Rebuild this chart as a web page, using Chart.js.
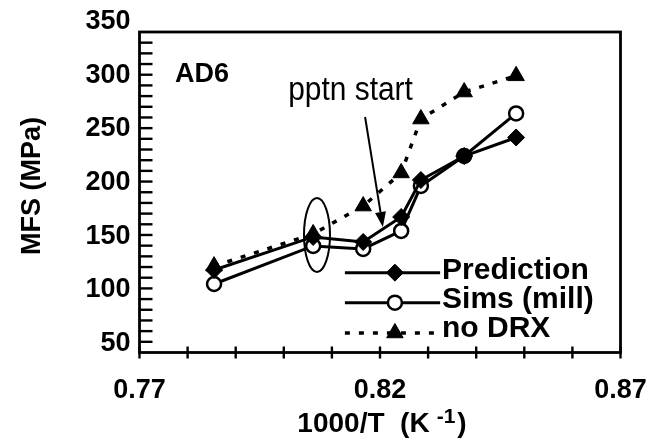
<!DOCTYPE html>
<html>
<head>
<meta charset="utf-8">
<script src="https://cdn.jsdelivr.net/npm/chart.js@4.4.1/dist/chart.umd.min.js"></script>
<style>
  html, body { margin: 0; padding: 0; background: #fff; }
  #wrap { width: 648px; height: 443px; }
</style>
</head>
<body>
<div id="wrap"><canvas id="c" width="648" height="443"></canvas></div>
<script>
// ---- data ----
const invT       = [0.7855, 0.8061, 0.8165, 0.8244, 0.8285, 0.8375, 0.8483];   // 1000/T (K^-1)
const prediction = [118.4, 149.2, 144.5, 167.8, 202.3, 224.7, 242.0];          // MFS (MPa)
const sims       = [105.3, 140.8, 138.0, 154.8, 196.7, 224.7, 264.4];
const noDRX      = [122.0, 152.0, 178.0, 208.9, 259.2, 284.4, 299.5];
const seriesNames = ['Prediction', 'Sims (mill)', 'no DRX'];
const yTickValues = [50, 100, 150, 200, 250, 300, 350];
const xTickValues = [0.77, 0.82, 0.87];

// ---- layout / style constants ----
const FONT = "'Liberation Sans', Arial, Helvetica, sans-serif";
const Y_MIN = 41.4, Y_MAX = 350, FRAME_TOP = 340.4;
const X_MIN = 0.77, X_MAX = 0.87;

const pts = ys => invT.map((x, i) => ({ x, y: ys[i] }));

const styles = [
  { pointStyle: 'rectRot', radius: 8.5, bg: '#000', bw: 1, dash: [] },
  { pointStyle: 'circle', radius: 7, bg: '#fff', bw: 2.5, dash: [] },
  { pointStyle: 'triangle', radius: 9.5, bg: '#000', bw: 1, dash: [5, 9] }
];
const seriesData = [prediction, sims, noDRX];

const datasets = seriesData.map((d, i) => ({
  label: seriesNames[i],
  data: pts(d),
  showLine: true,
  tension: 0,
  fill: false,
  borderColor: '#000',
  borderWidth: i === 2 ? 3.5 : 3,
  borderDash: styles[i].dash,
  pointStyle: styles[i].pointStyle,
  pointRadius: styles[i].radius,
  pointBackgroundColor: styles[i].bg,
  pointBorderColor: '#000',
  pointBorderWidth: styles[i].bw
}));

const decor = {
  id: 'decor',
  beforeDatasetsDraw(chart) {
    const { ctx, chartArea: a, scales: { x, y } } = chart;
    const top = y.getPixelForValue(FRAME_TOP);
    ctx.save();
    ctx.strokeStyle = '#000';
    ctx.lineWidth = 2.8;
    ctx.strokeRect(a.left, top, a.right - a.left, a.bottom - top);
    // inward minor ticks on the left axis
    ctx.lineWidth = 2.4;
    const n = 30;
    for (let k = 1; k < n; k++) {
      const py = a.bottom - k * (a.bottom - top) / n;
      ctx.beginPath(); ctx.moveTo(a.left, py); ctx.lineTo(a.left + 13, py); ctx.stroke();
    }
    // crossing ticks on the bottom axis
    for (let k = 0; k <= 10; k++) {
      const px = x.getPixelForValue(X_MIN + k * 0.01);
      ctx.beginPath(); ctx.moveTo(px, a.bottom - 6); ctx.lineTo(px, a.bottom + 6); ctx.stroke();
    }
    ctx.restore();
  },
  afterDatasetsDraw(chart) {
    const { ctx, chartArea: a, scales: { x, y } } = chart;
    const X = v => x.getPixelForValue(v), Y = v => y.getPixelForValue(v);
    ctx.save();
    ctx.fillStyle = '#000';
    ctx.strokeStyle = '#000';

    // AD6
    ctx.font = 'bold 27px ' + FONT;
    ctx.textAlign = 'left';
    ctx.textBaseline = 'alphabetic';
    ctx.fillText('AD6', X(0.7774), Y(302.6) + 9.7);

    // pptn start (condensed)
    ctx.save();
    ctx.font = '34px ' + FONT;
    ctx.translate(X(0.8009), Y(277.1));
    ctx.scale(0.88, 1);
    ctx.fillText('pptn start', 0, 0);
    ctx.restore();

    // arrow
    const x0 = X(0.8169), y0 = Y(261.1), x1 = X(0.8206), y1 = Y(158.5);
    const ang = Math.atan2(y1 - y0, x1 - x0);
    const L = 15, W = 5.5;
    const bx = x1 - L * Math.cos(ang), by = y1 - L * Math.sin(ang);
    ctx.lineWidth = 2;
    ctx.beginPath(); ctx.moveTo(x0, y0); ctx.lineTo(bx, by); ctx.stroke();
    ctx.beginPath();
    ctx.moveTo(x1, y1);
    ctx.lineTo(bx + W * Math.sin(ang), by - W * Math.cos(ang));
    ctx.lineTo(bx - W * Math.sin(ang), by + W * Math.cos(ang));
    ctx.closePath(); ctx.fill();

    // ellipse
    ctx.lineWidth = 2;
    ctx.beginPath();
    ctx.ellipse(X(0.8069), Y(151), 13, 37, 0, 0, Math.PI * 2);
    ctx.stroke();

    // legend
    const rows = [Y(115.9), Y(87.9), Y(59.6)];
    const textBase = [Y(109.6), Y(82.5), Y(55.5)];
    const lx0 = X(0.8127), lx1 = X(0.8325), lm = X(0.8231), tx = X(0.8329);
    ctx.font = 'bold 30px ' + FONT;
    for (let i = 0; i < 3; i++) {
      const s = styles[i];
      ctx.save();
      ctx.lineWidth = i === 2 ? 3.5 : 3;
      ctx.setLineDash(s.dash);
      ctx.beginPath(); ctx.moveTo(lx0, rows[i]); ctx.lineTo(lx1, rows[i]); ctx.stroke();
      ctx.restore();
      ctx.save();
      ctx.fillStyle = s.bg; ctx.strokeStyle = '#000'; ctx.lineWidth = s.bw;
      Chart.helpers.drawPoint(ctx, { pointStyle: s.pointStyle, radius: s.radius, rotation: 0, borderWidth: s.bw }, lm, rows[i]);
      ctx.restore();
      ctx.fillText(seriesNames[i], tx, textBase[i]);
    }

    // x-axis title with superscript
    const cx = (a.left + a.right) / 2;
    ctx.font = 'bold 28px ' + FONT;
    const main = '1000/T  (K';
    const wMain = ctx.measureText(main).width;
    ctx.font = 'bold 21px ' + FONT;
    const sup = '-1';
    const wSup = ctx.measureText(sup).width;
    ctx.font = 'bold 28px ' + FONT;
    const wPar = ctx.measureText(')').width;
    const gap = 7;
    const total = wMain + gap + wSup + 2 + wPar;
    let sx = cx + 2 - total / 2;
    const base = a.bottom + 79.5;
    ctx.fillText(main, sx, base);
    sx += wMain + gap;
    ctx.font = 'bold 21px ' + FONT;
    ctx.fillText(sup, sx, base - 9);
    sx += wSup + 2;
    ctx.font = 'bold 28px ' + FONT;
    ctx.fillText(')', sx, base);

    // y-axis title
    ctx.save();
    ctx.translate(39.6, (a.top + a.bottom) / 2 - 1);
    ctx.rotate(-Math.PI / 2);
    ctx.font = 'bold 27px ' + FONT;
    ctx.textAlign = 'center';
    ctx.fillText('MFS (MPa)', 0, 0);
    ctx.restore();

    ctx.restore();
  }
};

new Chart(document.getElementById('c'), {
  type: 'scatter',
  data: { datasets },
  options: {
    responsive: false,
    animation: false,
    events: [],
    layout: { padding: { top: 21.7, right: 27.5, left: 0, bottom: 0 } },
    plugins: { legend: { display: false }, tooltip: { enabled: false }, title: { display: false } },
    scales: {
      x: {
        type: 'linear', min: X_MIN, max: X_MAX,
        grid: { display: true, drawOnChartArea: false, drawTicks: true, tickLength: 22, tickColor: 'rgba(0,0,0,0)', color: 'rgba(0,0,0,0)' },
        border: { display: false },
        afterBuildTicks: s => { s.ticks = xTickValues.map(v => ({ value: v })); },
        afterFit: s => { s.height = 90.5; },
        ticks: {
          color: '#000', padding: 0, maxRotation: 0, autoSkip: false,
          font: { family: FONT, size: 27, weight: 'bold' },
          callback: v => Number(v).toFixed(2)
        }
      },
      y: {
        type: 'linear', min: Y_MIN, max: Y_MAX,
        grid: { display: true, drawOnChartArea: false, drawTicks: true, tickLength: 9, tickColor: 'rgba(0,0,0,0)', color: 'rgba(0,0,0,0)' },
        border: { display: false },
        afterBuildTicks: s => { s.ticks = yTickValues.map(v => ({ value: v })); },
        afterFit: s => { s.width = 139.5; },
        ticks: {
          color: '#000', padding: 0,
          font: { family: FONT, size: 27, weight: 'bold' },
          callback: v => String(v)
        }
      }
    }
  },
  plugins: [decor]
});
</script>
</body>
</html>
